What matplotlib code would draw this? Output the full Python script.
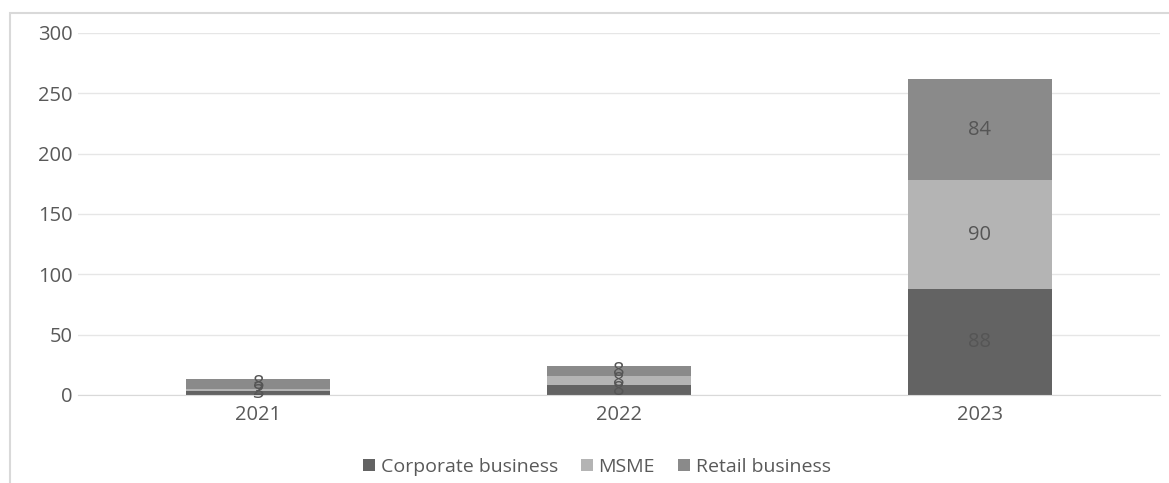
import numpy as np
import matplotlib
matplotlib.use('Agg')
import matplotlib.pyplot as plt
from matplotlib.patches import Rectangle

plt.rcParams['font.family'] = ['Open Sans', 'DejaVu Sans']

years = ['2021', '2022', '2023']
corporate = [3, 8, 88]
msme = [2, 8, 90]
retail = [8, 8, 84]

series = [('Corporate business', corporate, '#636363'),
          ('MSME', msme, '#b4b4b4'),
          ('Retail business', retail, '#8a8a8a')]

fig = plt.figure(figsize=(11.69, 4.83), dpi=100)
ax = fig.add_axes([78 / 1169, 1 - 395 / 483, (1160 - 78) / 1169, 362 / 483])

# light outer frame
fig.patches.append(Rectangle((10 / 1169, -0.05), 1.2, 1 - 13 / 483 + 0.05,
                             transform=fig.transFigure, fill=False,
                             edgecolor='#d9d9d9', linewidth=1.5))

x = np.arange(len(years))
bottom = np.zeros(len(years))
for name, vals, col in series:
    vals = np.array(vals, dtype=float)
    bars = ax.bar(x, vals, 0.4, bottom=bottom, color=col, label=name, zorder=2)
    for xi, b, v in zip(x, bottom, vals):
        ax.text(xi, b + v / 2, '%d' % v, ha='center', va='center',
                fontsize=14.5, color='#555555', zorder=3)
    bottom += vals

ax.set_xlim(-0.5, 2.5)
ax.set_ylim(0, 300)
ax.set_yticks(np.arange(0, 301, 50))
ax.set_xticks(x)
ax.set_xticklabels(years)
ax.grid(axis='y', color='#e6e6e6', linewidth=1, zorder=0)
for s in ax.spines.values():
    s.set_visible(False)
ax.spines['bottom'].set_visible(True)
ax.spines['bottom'].set_color('#d9d9d9')
ax.tick_params(axis='y', length=0, labelsize=14.5, labelcolor='#595959', pad=4)
ax.tick_params(axis='x', length=0, labelsize=14.5, labelcolor='#595959', pad=7)

fig.legend(loc='center', bbox_to_anchor=(597 / 1169, 1 - 467 / 483), ncol=3,
           frameon=False, fontsize=14, handlelength=0.6, handleheight=0.6,
           handletextpad=0.3, columnspacing=1.2, labelcolor='#595959')

fig.savefig('out.png', dpi=100)
